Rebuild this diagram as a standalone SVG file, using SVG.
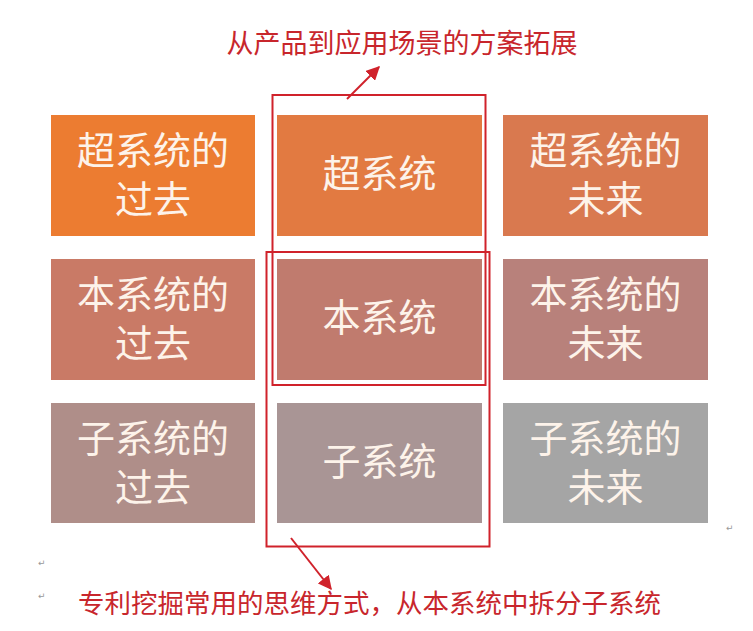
<svg xmlns="http://www.w3.org/2000/svg" width="753" height="631" viewBox="0 0 753 631">
  <style>
    .box text { font-family: "Noto Sans CJK SC", "Noto Sans", sans-serif; font-size: 38px; fill: #fdf3ea; text-anchor: middle; }
    .red { fill: none; stroke: #d0222b; stroke-width: 2; }
    .note { font-family: "Noto Sans CJK SC", "Noto Sans", sans-serif; fill: #c8262c; }
    .mark { font-family: "DejaVu Sans", sans-serif; font-size: 9px; fill: #999999; }
  </style>
  <defs>
    <marker id="ah" viewBox="0 0 10 10" refX="9" refY="5" markerWidth="7" markerHeight="7" orient="auto" markerUnits="strokeWidth">
      <path d="M0,0 L10,5 L0,10 z" fill="#d0222b"/>
    </marker>
  </defs>
  <rect width="753" height="631" fill="#ffffff"/>

  <g id="super-past" class="box">
    <rect x="51" y="115" width="204" height="121" fill="#ec7c31"/>
    <text x="153" y="164">超系统的</text>
    <text x="153" y="213">过去</text>
  </g>
  <g id="super" class="box">
    <rect x="277" y="115" width="205" height="121" fill="#e27a41"/>
    <text x="379.5" y="187">超系统</text>
  </g>
  <g id="super-future" class="box">
    <rect x="503" y="115" width="205" height="121" fill="#d9794f"/>
    <text x="605.5" y="164">超系统的</text>
    <text x="605.5" y="213">未来</text>
  </g>

  <g id="this-past" class="box">
    <rect x="51" y="259" width="204" height="121" fill="#c97a66"/>
    <text x="153" y="308">本系统的</text>
    <text x="153" y="357">过去</text>
  </g>
  <g id="this" class="box">
    <rect x="277" y="259" width="205" height="121" fill="#c07b6e"/>
    <text x="379.5" y="331">本系统</text>
  </g>
  <g id="this-future" class="box">
    <rect x="503" y="259" width="205" height="121" fill="#b8817b"/>
    <text x="605.5" y="308">本系统的</text>
    <text x="605.5" y="357">未来</text>
  </g>

  <g id="sub-past" class="box">
    <rect x="51" y="403" width="204" height="120" fill="#af8e89"/>
    <text x="153" y="452">子系统的</text>
    <text x="153" y="501">过去</text>
  </g>
  <g id="sub" class="box">
    <rect x="277" y="403" width="205" height="120" fill="#a99595"/>
    <text x="379.5" y="475">子系统</text>
  </g>
  <g id="sub-future" class="box">
    <rect x="503" y="403" width="205" height="120" fill="#a5a5a5"/>
    <text x="605.5" y="452">子系统的</text>
    <text x="605.5" y="501">未来</text>
  </g>

  <g id="frames">
    <rect class="red" x="272.5" y="95" width="213" height="290"/>
    <rect class="red" x="266.5" y="252" width="223" height="294.5"/>
  </g>

  <g id="connectors">
    <line class="red" x1="347" y1="99" x2="379" y2="67" marker-end="url(#ah)"/>
    <line class="red" x1="291" y1="538" x2="331" y2="589" marker-end="url(#ah)"/>
  </g>

  <g id="labels">
    <text class="note" x="402" y="53" font-size="27" text-anchor="middle">从产品到应用场景的方案拓展</text>
    <text class="note" x="78" y="613" font-size="26.5">专利挖掘常用的思维方式，从本系统中拆分子系统</text>
    <text class="mark" x="726" y="531">↵</text>
    <text class="mark" x="38" y="566">↵</text>
    <text class="mark" x="38" y="599">↵</text>
  </g>
</svg>
